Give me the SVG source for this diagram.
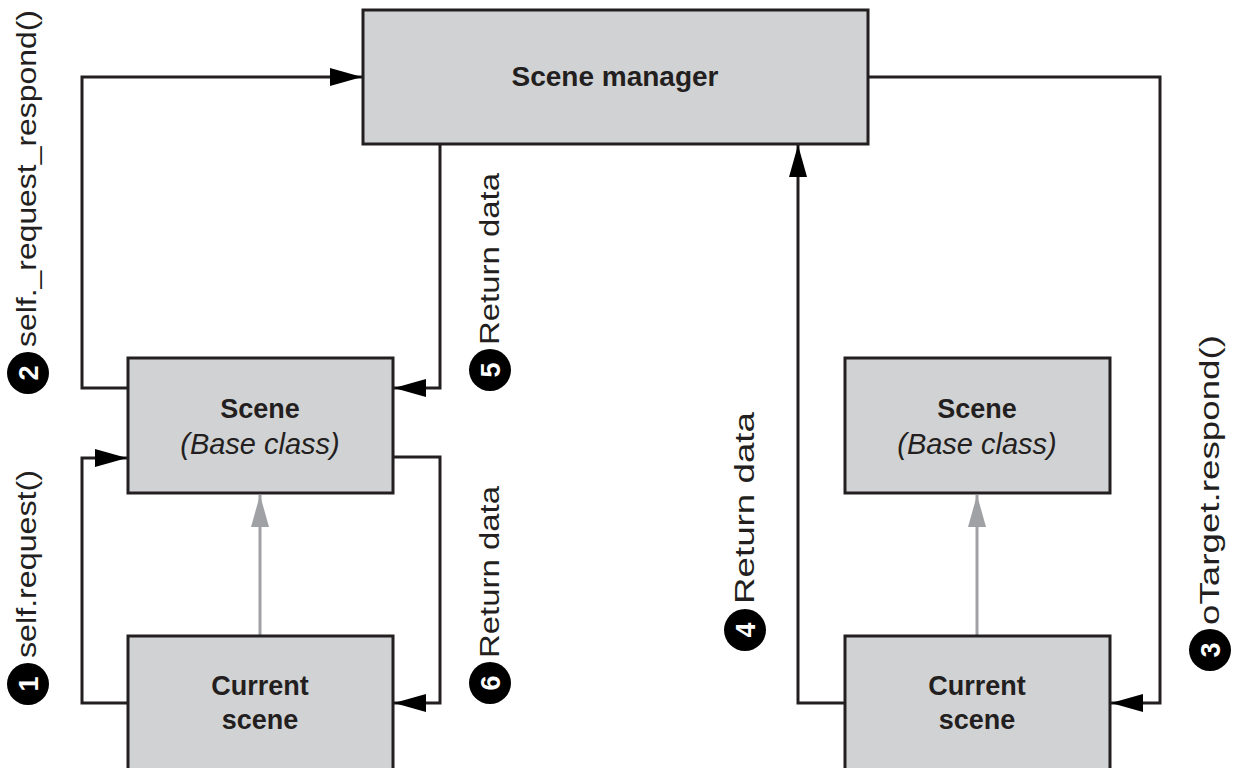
<svg xmlns="http://www.w3.org/2000/svg" width="1233" height="768" viewBox="0 0 1233 768">
<style>
.box{fill:#d1d2d4;stroke:#231f20;stroke-width:3}
.t{font-family:"Liberation Sans",Arial,sans-serif;fill:#231f20;text-anchor:middle}
.b{font-weight:bold;font-size:27px}
.i{font-style:italic;font-size:29px}
.c{fill:none;stroke:#231f20;stroke-width:3}
.g{fill:none;stroke:#a0a1a4;stroke-width:3}
.lbl{font-family:"Liberation Sans",Arial,sans-serif;font-size:27px;fill:#231f20}
.bd{fill:#000}
.bn{font-family:"Liberation Sans",Arial,sans-serif;font-size:27px;font-weight:bold;fill:#fff;text-anchor:middle}
</style>
<defs>
<marker id="ah" markerUnits="userSpaceOnUse" markerWidth="34" markerHeight="20" refX="32" refY="9" orient="auto"><path d="M0,0 L32,9 L0,18 Z" fill="#000"/></marker>
<marker id="ag" markerUnits="userSpaceOnUse" markerWidth="34" markerHeight="20" refX="32" refY="9" orient="auto"><path d="M0,0 L32,9 L0,18 Z" fill="#a0a1a4"/></marker>
</defs>
<rect width="1233" height="768" fill="#fff"/>
<g id="connectors">
<path class="c" d="M128,703 H82 V458 H127" marker-end="url(#ah)"/>
<path class="c" d="M128,388 H82 V77 H362" marker-end="url(#ah)"/>
<path class="c" d="M440,144 V388 H394" marker-end="url(#ah)"/>
<path class="c" d="M393,457 H440 V703 H394" marker-end="url(#ah)"/>
<path class="c" d="M868,77 H1160 V703 H1111" marker-end="url(#ah)"/>
<path class="c" d="M845,703 H798 V145" marker-end="url(#ah)"/>
<path class="g" d="M260,636 V495" marker-end="url(#ag)"/>
<path class="g" d="M977,636 V495" marker-end="url(#ag)"/>
</g>
<g id="scene-manager">
<rect class="box" x="363" y="10" width="505" height="134"/>
<text class="t b" x="615" y="86" style="font-size:28px">Scene manager</text>
</g>
<g id="scene-base-left">
<rect class="box" x="128" y="358" width="265" height="135"/>
<text class="t b" x="260" y="418">Scene</text>
<text class="t i" x="260" y="454">(Base class)</text>
</g>
<g id="current-scene-left">
<rect class="box" x="128" y="636" width="265" height="150"/>
<text class="t b" x="260" y="695">Current</text>
<text class="t b" x="260" y="729">scene</text>
</g>
<g id="scene-base-right">
<rect class="box" x="845" y="358" width="265" height="135"/>
<text class="t b" x="977" y="418">Scene</text>
<text class="t i" x="977" y="454">(Base class)</text>
</g>
<g id="current-scene-right">
<rect class="box" x="845" y="636" width="265" height="150"/>
<text class="t b" x="977" y="695">Current</text>
<text class="t b" x="977" y="729">scene</text>
</g>
<g id="label-1">
<circle class="bd" cx="28" cy="684" r="21"/>
<text class="bn" transform="translate(38,684) rotate(-90)">1</text>
<text class="lbl" transform="translate(36,658) rotate(-90)" textLength="188" lengthAdjust="spacingAndGlyphs">self.request()</text>
</g>
<g id="label-2">
<circle class="bd" cx="28" cy="373" r="21"/>
<text class="bn" transform="translate(38,373) rotate(-90)">2</text>
<text class="lbl" transform="translate(36,347) rotate(-90)" textLength="337" lengthAdjust="spacingAndGlyphs">self._request_respond()</text>
</g>
<g id="label-5">
<circle class="bd" cx="490" cy="370" r="21"/>
<text class="bn" transform="translate(500,370) rotate(-90)">5</text>
<text class="lbl" transform="translate(499,345) rotate(-90)" textLength="172" lengthAdjust="spacingAndGlyphs">Return data</text>
</g>
<g id="label-6">
<circle class="bd" cx="490" cy="683" r="21"/>
<text class="bn" transform="translate(500,683) rotate(-90)">6</text>
<text class="lbl" transform="translate(499,658) rotate(-90)" textLength="172" lengthAdjust="spacingAndGlyphs">Return data</text>
</g>
<g id="label-4">
<circle class="bd" cx="745" cy="630" r="21"/>
<text class="bn" transform="translate(755,630) rotate(-90)">4</text>
<text class="lbl" transform="translate(754,604) rotate(-90)" textLength="192" lengthAdjust="spacingAndGlyphs">Return data</text>
</g>
<g id="label-3">
<circle class="bd" cx="1210" cy="650" r="21"/>
<text class="bn" transform="translate(1220,650) rotate(-90)">3</text>
<text class="lbl" transform="translate(1219,625) rotate(-90)" textLength="290" lengthAdjust="spacingAndGlyphs">oTarget.respond()</text>
</g>
</svg>
